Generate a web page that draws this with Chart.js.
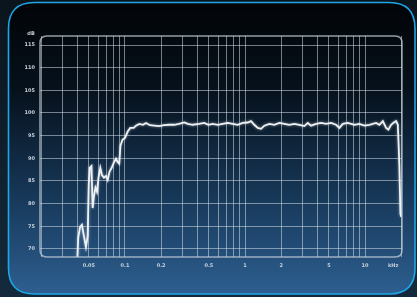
<!DOCTYPE html>
<html>
<head>
<meta charset="utf-8">
<script src="https://cdn.jsdelivr.net/npm/chart.js@4/dist/chart.umd.min.js"></script>
<style>
html,body{margin:0;padding:0;background:#0d1a25;overflow:hidden;}
#wrap{width:417px;height:297px;position:relative;}
</style>
</head>
<body>
<div id="wrap"><canvas id="c"></canvas></div>
<script>
// Frequency in kHz
const freqKHz = [
  0.0402,0.0408,0.0422,0.0438,0.0455,0.0473,0.0489,0.0499,0.0509,0.0526,
  0.0538,0.0552,0.0568,0.0585,0.0602,0.0623,0.0643,0.0668,0.0695,0.0718,
  0.0743,0.0775,0.0805,0.0841,0.0869,0.0896,0.0917,0.0953,0.100,0.1054,
  0.1107,0.1182,0.1236,0.1316,0.1413,0.1496,0.1616,0.1755,0.1931,0.2113,
  0.2328,0.2575,0.2818,0.312,0.333,0.3664,0.414,0.458,0.495,0.538,
  0.592,0.652,0.717,0.790,0.869,0.957,1.053,1.122,1.195,1.276,
  1.359,1.449,1.594,1.754,1.931,2.126,2.339,2.576,2.835,3.121,
  3.331,3.548,3.906,4.30,4.732,5.21,5.73,6.11,6.52,7.17,
  8.15,8.96,9.87,10.86,12.35,13.16,14.05,14.96,15.63,16.47,
  17.34,18.13,18.74,19.1,19.3,19.7,19.95
];
// Level in dB
const levelDB = [
  68.2,72.4,74.8,75.3,72.8,70.4,72.8,84.1,87.9,88.3,
  79.0,81.7,83.5,82.6,85.7,87.9,86.3,85.7,86.1,85.2,
  87.0,87.9,89.0,89.9,89.2,88.8,92.8,94.1,94.5,95.9,
  96.7,96.7,97.2,97.6,97.4,97.8,97.3,97.2,97.1,97.3,
  97.4,97.4,97.6,97.9,97.6,97.4,97.6,97.8,97.4,97.6,
  97.4,97.6,97.8,97.6,97.4,97.8,97.9,98.2,97.4,96.7,
  96.5,97.2,97.6,97.4,97.8,97.6,97.4,97.6,97.4,97.1,
  97.8,97.2,97.6,97.8,97.6,97.8,97.4,96.7,97.6,97.8,
  97.4,97.6,97.2,97.4,97.8,97.4,98.2,96.7,96.3,97.4,
  97.9,98.2,97.4,91.9,88.2,77.8,77.1
];
const xGridValues = [0.02,0.03,0.04,0.05,0.06,0.07,0.08,0.09,0.1,0.2,0.3,0.4,0.5,0.6,0.7,0.8,0.9,1,2,3,4,5,6,7,8,9,10,20];
const xTickLabels = {0.05:'0.05',0.1:'0.1',0.2:'0.2',0.5:'0.5',1:'1',2:'2',5:'5',10:'10'};
const yTickValues = [70,75,80,85,90,95,100,105,110,115];
const yUnit = 'dB';
const xUnit = 'kHz';

const points = freqKHz.map((f,i)=>({x:f,y:levelDB[i]}));

function rr(ctx,x,y,w,h,r){
  ctx.beginPath();
  ctx.moveTo(x+r,y);
  ctx.lineTo(x+w-r,y);
  ctx.quadraticCurveTo(x+w,y,x+w,y+r);
  ctx.lineTo(x+w,y+h-r);
  ctx.quadraticCurveTo(x+w,y+h,x+w-r,y+h);
  ctx.lineTo(x+r,y+h);
  ctx.quadraticCurveTo(x,y+h,x,y+h-r);
  ctx.lineTo(x,y+r);
  ctx.quadraticCurveTo(x,y,x+r,y);
  ctx.closePath();
}

const framePlugin = {
  id:'frame',
  beforeDraw(chart){
    const ctx = chart.ctx;
    ctx.save();
    const bg = ctx.createLinearGradient(0,0,0,297);
    bg.addColorStop(0,'#0a141d');
    bg.addColorStop(1,'#142a3c');
    ctx.fillStyle = bg;
    ctx.fillRect(0,0,417,297);
    const g = ctx.createLinearGradient(0,3,0,294);
    g.addColorStop(0,'#020407');
    g.addColorStop(0.3,'#06111c');
    g.addColorStop(0.65,'#163656');
    g.addColorStop(1,'#2d5f90');
    rr(ctx,8.5,2.5,406.5,291.5,26);
    ctx.fillStyle = g;
    ctx.fill();
    ctx.lineWidth = 1.6;
    ctx.strokeStyle = '#1fa6e6';
    ctx.stroke();
    ctx.restore();
  },
  beforeDatasetsDraw(chart){
    const ctx = chart.ctx;
    ctx.save();
    ctx.shadowColor = 'rgba(255,255,255,0.55)';
    ctx.shadowBlur = 3;
  },
  afterDatasetsDraw(chart){
    chart.ctx.restore();
  },
  afterDraw(chart){
    const ctx = chart.ctx, a = chart.chartArea;
    ctx.save();
    rr(ctx,a.left,a.top,a.right-a.left,a.bottom-a.top,7);
    ctx.lineWidth = 1.5;
    ctx.strokeStyle = 'rgba(195,205,215,0.75)';
    ctx.stroke();
    ctx.fillStyle = '#c9d1d9';
    ctx.font = 'bold 5px "DejaVu Sans"';
    ctx.textAlign = 'center';
    ctx.textBaseline = 'middle';
    ctx.fillText(yUnit, 31, 34);
    const xs = chart.scales.x;
    ctx.fillText(xUnit, xs.getPixelForValue(20)-8, a.bottom+9);
    ctx.restore();
  }
};

new Chart(document.getElementById('c'),{
  type:'line',
  data:{datasets:[{
    data:points,
    borderColor:'#eef2f5',
    borderWidth:1.8,
    pointRadius:0,
    tension:0,
    fill:false
  }]},
  options:{
    responsive:true,
    maintainAspectRatio:false,
    animation:false,
    events:[],
    layout:{padding:{left:0,top:36,right:15,bottom:0}},
    plugins:{legend:{display:false},tooltip:{enabled:false}},
    scales:{
      x:{
        type:'logarithmic',
        min:0.0196,max:20.3,
        afterBuildTicks(s){ s.ticks = xGridValues.map(v=>({value:v})); },
        afterFit(s){ s.height = 40; },
        grid:{color:'rgba(210,220,230,0.55)',lineWidth:1,drawTicks:false},
        border:{display:false},
        ticks:{
          autoSkip:false,maxRotation:0,padding:6,
          color:'#c9d1d9',
          font:{family:'DejaVu Sans',size:5,weight:'bold'},
          callback(v){ return xTickLabels[v] !== undefined ? xTickLabels[v] : ''; }
        }
      },
      y:{
        type:'linear',
        min:68.2,max:117,
        afterBuildTicks(s){ s.ticks = yTickValues.map(v=>({value:v})); },
        afterFit(s){ s.width = 40; },
        grid:{color:'rgba(210,220,230,0.55)',lineWidth:1,drawTicks:false},
        border:{display:false},
        ticks:{
          padding:5,
          color:'#c9d1d9',
          font:{family:'DejaVu Sans',size:5,weight:'bold'},
          callback(v){ return String(v); }
        }
      }
    }
  },
  plugins:[framePlugin]
});
</script>
</body>
</html>
